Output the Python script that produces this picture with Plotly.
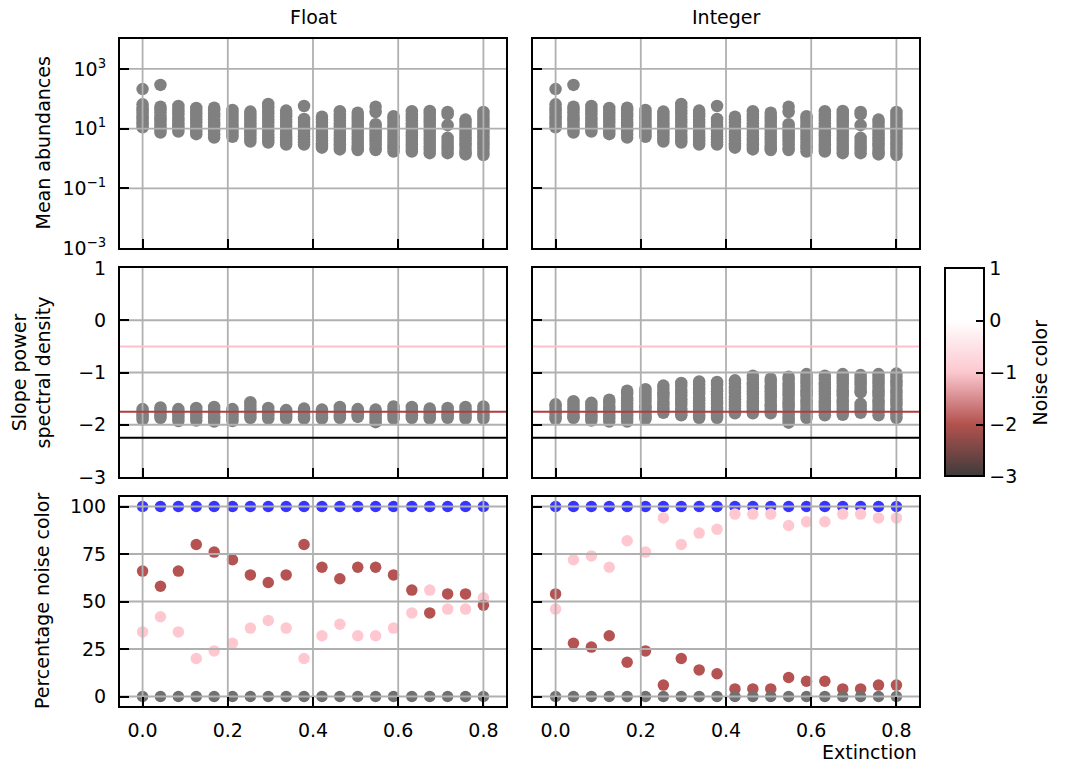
import plotly.graph_objects as go

# ---------------------------------------------------------------- data
extinction = [0.0, 0.042, 0.084, 0.126, 0.168, 0.211, 0.253, 0.295, 0.337, 0.379,
              0.421, 0.463, 0.505, 0.547, 0.589, 0.632, 0.674, 0.716, 0.758, 0.8]

# mean abundance of every surviving species, one list per extinction level
mean_abundance = [
    [210, 65, 50, 41, 33, 26, 21, 17, 14, 11],
    [290, 54, 44, 35, 27, 22, 18, 14, 11, 9.2, 7.4],
    [57, 45, 37, 30, 23, 19, 15, 12, 9.8, 8.0],
    [49, 40, 31, 25, 20, 16, 12.5, 10, 8.2, 6.5],
    [50, 41, 32, 26, 20, 16, 13, 10, 8.3, 6.4, 5.0],
    [42, 33, 27, 21, 17, 13.5, 11, 8.6, 6.9, 5.3],
    [37, 30, 24, 19, 15, 12, 9.4, 7.6, 6.0, 4.7, 3.7],
    [67, 52, 40, 32, 25, 20, 16, 12.5, 10, 8.1, 6.3, 5.1, 4.1, 3.4],
    [40, 32, 26, 20, 16, 12.5, 10, 7.9, 6.3, 5.1, 4.1, 3.4, 2.9],
    [57, 21, 17, 13.5, 10.5, 8.4, 6.8, 5.5, 4.4, 3.5, 2.9],
    [25, 20, 16, 12.5, 10, 7.8, 6.2, 5.0, 4.0, 3.2, 2.6, 2.3],
    [38, 30, 24, 19, 15, 12, 9.5, 7.4, 5.9, 4.7, 3.8, 3.0, 2.4, 2.0],
    [34, 27, 21, 17, 13.5, 10.5, 8.5, 6.8, 5.4, 4.3, 3.4, 2.7, 2.2, 1.9],
    [54, 36, 14, 11, 8.8, 7.0, 5.6, 4.5, 3.6, 2.9, 2.3, 1.9],
    [26, 21, 16.5, 13, 10.5, 8.4, 6.7, 5.4, 4.3, 3.4, 2.7, 2.2, 1.7],
    [38, 30, 24, 19, 15, 12, 9.5, 7.5, 6.0, 4.8, 3.8, 3.0, 2.4, 2.0, 1.7],
    [39, 31, 25, 19.5, 15.5, 12.5, 10, 8.0, 6.3, 5.0, 4.0, 3.1, 2.5, 2.0, 1.5],
    [36, 30, 13, 4.9, 3.9, 3.1, 2.5, 2.0, 1.5],
    [20, 16, 12.5, 10, 8.0, 6.4, 5.1, 4.1, 3.2, 2.6, 2.0, 1.6, 1.36],
    [36, 29, 23, 18, 14, 11, 9.0, 7.1, 5.6, 4.5, 3.5, 2.8, 2.2, 1.7, 1.3],
]

# slope of the power spectral density of every species
slope_float = [
    [-1.70, -1.75, -1.80, -1.85, -1.90],
    [-1.67, -1.72, -1.77, -1.82, -1.87],
    [-1.70, -1.76, -1.81, -1.87, -1.93],
    [-1.68, -1.74, -1.80, -1.86, -1.92],
    [-1.66, -1.72, -1.78, -1.84, -1.89, -1.94],
    [-1.70, -1.76, -1.81, -1.87, -1.93],
    [-1.57, -1.63, -1.69, -1.75, -1.81, -1.87],
    [-1.68, -1.73, -1.78, -1.83, -1.88],
    [-1.72, -1.76, -1.80, -1.84, -1.88],
    [-1.69, -1.74, -1.79, -1.84, -1.88],
    [-1.71, -1.75, -1.80, -1.84, -1.88],
    [-1.66, -1.72, -1.77, -1.82, -1.87],
    [-1.70, -1.74, -1.78, -1.82, -1.85],
    [-1.71, -1.77, -1.83, -1.89, -1.95],
    [-1.65, -1.71, -1.77, -1.83, -1.88],
    [-1.66, -1.72, -1.77, -1.82, -1.87],
    [-1.69, -1.74, -1.79, -1.84, -1.88],
    [-1.68, -1.73, -1.78, -1.83, -1.87],
    [-1.66, -1.72, -1.77, -1.83, -1.88],
    [-1.65, -1.71, -1.77, -1.83, -1.88],
]

slope_integer = [
    [-1.61, -1.66, -1.72, -1.78, -1.84, -1.89],
    [-1.55, -1.61, -1.68, -1.73, -1.79, -1.84, -1.87],
    [-1.58, -1.64, -1.70, -1.77, -1.82, -1.87, -1.92],
    [-1.52, -1.58, -1.65, -1.70, -1.76, -1.83, -1.88, -1.94],
    [-1.35, -1.41, -1.48, -1.53, -1.59, -1.66, -1.71, -1.77, -1.83, -1.89, -1.94],
    [-1.32, -1.38, -1.45, -1.50, -1.56, -1.63, -1.68, -1.74, -1.80, -1.85, -1.89],
    [-1.25, -1.31, -1.38, -1.43, -1.49, -1.56, -1.61, -1.67, -1.72, -1.77],
    [-1.20, -1.26, -1.33, -1.38, -1.44, -1.51, -1.56, -1.62, -1.69, -1.74, -1.79, -1.82],
    [-1.17, -1.23, -1.30, -1.35, -1.41, -1.48, -1.53, -1.59, -1.66, -1.71, -1.77, -1.82, -1.87],
    [-1.18, -1.24, -1.31, -1.36, -1.42, -1.49, -1.54, -1.60, -1.67, -1.72, -1.78, -1.83, -1.87],
    [-1.15, -1.21, -1.28, -1.33, -1.39, -1.46, -1.51, -1.57, -1.64, -1.69, -1.74, -1.78],
    [-1.06, -1.12, -1.19, -1.24, -1.30, -1.37, -1.42, -1.48, -1.55, -1.60, -1.66, -1.72, -1.78],
    [-1.12, -1.18, -1.25, -1.30, -1.36, -1.43, -1.48, -1.54, -1.61, -1.66, -1.72, -1.78],
    [-1.08, -1.14, -1.21, -1.26, -1.32, -1.39, -1.44, -1.50, -1.57, -1.62, -1.68,
     -1.75, -1.80, -1.86, -1.91, -1.96],
    [-1.03, -1.09, -1.16, -1.21, -1.27, -1.34, -1.39, -1.45, -1.52, -1.57, -1.63,
     -1.70, -1.75, -1.81, -1.87],
    [-1.06, -1.12, -1.19, -1.24, -1.30, -1.37, -1.42, -1.48, -1.55, -1.60, -1.66,
     -1.72, -1.77, -1.82],
    [-1.03, -1.09, -1.16, -1.21, -1.27, -1.34, -1.39, -1.45, -1.52, -1.57, -1.63,
     -1.69, -1.75, -1.81],
    [-1.05, -1.11, -1.18, -1.23, -1.29, -1.35, -1.38, -1.60, -1.66, -1.72, -1.77],
    [-1.03, -1.09, -1.16, -1.21, -1.27, -1.34, -1.39, -1.45, -1.52, -1.57, -1.63,
     -1.70, -1.75, -1.82],
    [-1.02, -1.08, -1.15, -1.20, -1.26, -1.33, -1.38, -1.44, -1.51, -1.56, -1.62,
     -1.69, -1.74, -1.80, -1.87],
]

# percentage of species per noise colour
pct_all = [100, 100, 100, 100, 100, 100, 100, 100, 100, 100,
           100, 100, 100, 100, 100, 100, 100, 100, 100, 100]
pct_black = [0, 0, 0, 0, 0, 0, 0, 0, 0, 0, 0, 0, 0, 0, 0, 0, 0, 0, 0, 0]
pct_brown_float = [66, 58, 66, 80, 76, 72, 64, 60, 64, 80,
                   68, 62, 68, 68, 64, 56, 44, 54, 54, 48]
pct_pink_float = [34, 42, 34, 20, 24, 28, 36, 40, 36, 20,
                  32, 38, 32, 32, 36, 44, 56, 46, 46, 52]
pct_brown_integer = [54, 28, 26, 32, 18, 24, 6, 20, 14, 12,
                     4, 4, 4, 10, 8, 8, 4, 4, 6, 6]
pct_pink_integer = [46, 72, 74, 68, 82, 76, 94, 80, 86, 88,
                    96, 96, 96, 90, 92, 92, 96, 96, 94, 94]

# noise colour boundaries drawn as reference lines (slope values)
noise_levels = [-0.5, -1.75, -2.25]
noise_level_colors = ["#ffc0cb", "#ad3f3f", "#000000"]

# axis ticks
x_ticks = [0.0, 0.2, 0.4, 0.6, 0.8]
x_labels = ["0.0", "0.2", "0.4", "0.6", "0.8"]
abund_ticks = [1e-3, 1e-1, 1e1, 1e3]
abund_labels = ["10<sup>−3</sup>", "10<sup>−1</sup>", "10<sup>1</sup>", "10<sup>3</sup>"]
slope_ticks = [-3, -2, -1, 0, 1]
slope_labels = ["−3", "−2", "−1", "0", "1"]
pct_ticks = [0, 25, 50, 75, 100]
pct_labels = ["0", "25", "50", "75", "100"]
cbar_ticks = [-3, -2, -1, 0, 1]
cbar_labels = ["−3", "−2", "−1", "0", "1"]

# ---------------------------------------------------------------- style
W, H = 1066, 764
FONT = "DejaVu Sans"
FS = 19
GREY = "#808080"
GRID = "#b0b0b0"
X_RANGE = [-0.053, 0.853]
LOG_RANGE = [-3, 4]
SLOPE_RANGE = [-3, 1]
PCT_RANGE = [-5, 105]

col_px = [(120, 506), (533, 919)]
row_px = [(39, 248), (268, 477), (497, 706)]


def fx(p):
    return p / W


def fy(p):
    return 1 - p / H


fig = go.Figure()


def ax_names(r, c):
    i = r * 2 + c + 1
    s = "" if i == 1 else str(i)
    return "x" + s, "y" + s, "xaxis" + s, "yaxis" + s


def flatten(groups):
    xs, ys = [], []
    for x, g in zip(extinction, groups):
        for v in g:
            xs.append(x)
            ys.append(v)
    return xs, ys


def dots(r, c, xs, ys, color, size):
    xa, ya, _, _ = ax_names(r, c)
    fig.add_trace(go.Scatter(x=xs, y=ys, mode="markers", xaxis=xa, yaxis=ya,
                             marker=dict(color=color, size=size, line=dict(width=0)),
                             showlegend=False, hoverinfo="skip"))


def line(r, c, xs, ys, color, width=2):
    xa, ya, _, _ = ax_names(r, c)
    fig.add_trace(go.Scatter(x=xs, y=ys, mode="lines", xaxis=xa, yaxis=ya,
                             line=dict(color=color, width=width),
                             showlegend=False, hoverinfo="skip"))


def grid(r, c, yticks, ylo, yhi):
    # grid drawn over the markers; far-away end points are clipped to the plot area
    for xv in x_ticks:
        line(r, c, [xv, xv], [ylo, yhi], GRID, 1.8)
    for yv in yticks:
        line(r, c, [-1, 2], [yv, yv], GRID, 1.8)


for c in range(2):
    # row 0: mean abundances
    xs, ys = flatten(mean_abundance)
    dots(0, c, xs, ys, GREY, 12.5)
    grid(0, c, [t for t in abund_ticks if 1e-3 < t < 1e4], 1e-6, 1e9)

    # row 1: slope of the power spectral density
    xs, ys = flatten(slope_float if c == 0 else slope_integer)
    dots(1, c, xs, ys, GREY, 12.5)
    grid(1, c, [t for t in slope_ticks if -3 < t < 1], -10, 10)
    for lv, lc in zip(noise_levels, noise_level_colors):
        line(1, c, [-1, 2], [lv, lv], lc, 2)

    # row 2: percentage of species per noise colour
    brown = pct_brown_float if c == 0 else pct_brown_integer
    pink = pct_pink_float if c == 0 else pct_pink_integer
    dots(2, c, extinction, pct_all, "#3535ff", 11.5)
    dots(2, c, extinction, pink, "#ffc8d0", 11.5)
    dots(2, c, extinction, brown, "#b55353", 11.5)
    dots(2, c, extinction, pct_black, "#707070", 11.5)
    grid(2, c, pct_ticks, -50, 150)

# colour bar for the noise colour scale
fig.add_trace(go.Scatter(
    x=[None], y=[None], mode="markers", showlegend=False, hoverinfo="skip",
    marker=dict(
        color=[-3, 1], cmin=-3, cmax=1,
        colorscale=[[0.0, "#3e3b3b"], [0.25, "#b3524f"], [0.5, "#fcc8d0"],
                    [0.75, "#ffffff"], [1.0, "#ffffff"]],
        showscale=True,
        colorbar=dict(
            x=fx(945), xanchor="left", xpad=0,
            y=fy(372.5), yanchor="middle", ypad=0,
            len=208.4 / H, lenmode="fraction",
            thickness=39, thicknessmode="pixels",
            outlinewidth=2, outlinecolor="black",
            ticks="inside", ticklen=9, tickwidth=2, tickcolor="black",
            tickvals=cbar_ticks, ticktext=cbar_labels,
            tickfont=dict(family=FONT, size=FS, color="black"),
        ),
    ),
))

# ---------------------------------------------------------------- axes
axis_common = dict(showline=True, linecolor="black", linewidth=2, mirror=True,
                   ticks="inside", ticklen=9, tickwidth=2, tickcolor="black",
                   showgrid=False, zeroline=False, automargin=False,
                   tickfont=dict(family=FONT, size=FS, color="black"))

layout_axes = {}
for r in range(3):
    for c in range(2):
        xa, ya, xkey, ykey = ax_names(r, c)
        layout_axes[xkey] = dict(
            axis_common, domain=[fx(col_px[c][0]), fx(col_px[c][1])], anchor=ya,
            range=X_RANGE, tickmode="array", tickvals=x_ticks, ticktext=x_labels,
            showticklabels=(r == 2), ticklabelstandoff=6)
        if r == 0:
            yextra = dict(type="log", range=LOG_RANGE, tickvals=abund_ticks,
                          ticktext=abund_labels)
        elif r == 1:
            yextra = dict(range=SLOPE_RANGE, tickvals=slope_ticks, ticktext=slope_labels)
        else:
            yextra = dict(range=PCT_RANGE, tickvals=pct_ticks, ticktext=pct_labels)
        layout_axes[ykey] = dict(
            axis_common, domain=[fy(row_px[r][1]), fy(row_px[r][0])], anchor=xa,
            tickmode="array", showticklabels=(c == 0), ticklabelstandoff=8, **yextra)

annotations = [
    dict(text="Float", x=fx(313), y=fy(17)),
    dict(text="Integer", x=fx(726), y=fy(17)),
    dict(text="Extinction", x=fx(919), y=fy(752), xanchor="right"),
    dict(text="Mean abundances", x=fx(42), y=fy(143.5), textangle=-90),
    dict(text="Slope power<br>spectral density", x=fx(31), y=fy(372.5), textangle=-90),
    dict(text="Percentage noise color", x=fx(42), y=fy(601), textangle=-90),
    dict(text="Noise color", x=fx(1040), y=fy(372.5), textangle=-90),
]
for a in annotations:
    a.setdefault("xanchor", "center")
    a.update(xref="paper", yref="paper", yanchor="middle", showarrow=False,
             font=dict(family=FONT, size=FS, color="black"))

fig.update_layout(
    width=W, height=H,
    margin=dict(l=0, r=0, t=0, b=0, autoexpand=False),
    paper_bgcolor="white", plot_bgcolor="white",
    font=dict(family=FONT, size=FS, color="black"),
    annotations=annotations,
    **layout_axes,
)

fig.write_html("out.html")
